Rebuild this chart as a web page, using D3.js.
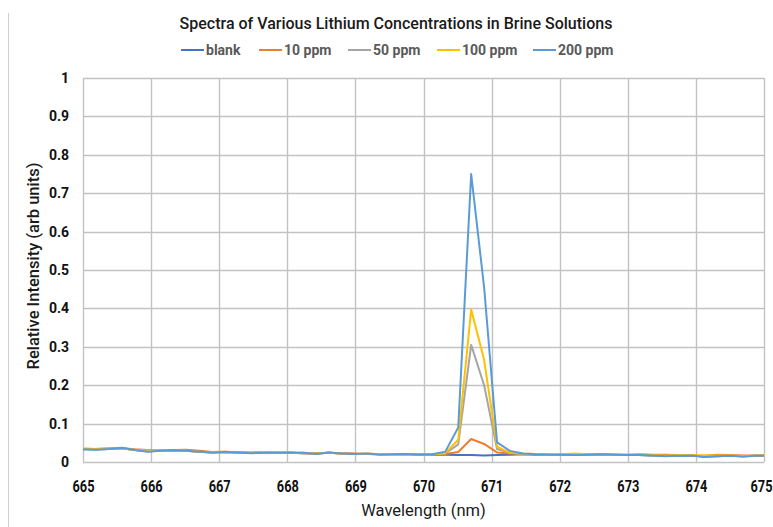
<!DOCTYPE html>
<html>
<head>
<meta charset="utf-8">
<script src="https://cdn.jsdelivr.net/npm/d3@7"></script>
<style>
  body { margin: 0; background: #fff; }
  svg { font-family: Roboto, "Noto Sans", sans-serif; }
</style>
</head>
<body>
<div id="chart"></div>
<script>
// wavelength of each spectrometer pixel (nm)
const wavelengths = [665.00, 665.19, 665.38, 665.57, 665.76, 665.95, 666.14, 666.33, 666.52, 666.71,
  666.90, 667.09, 667.28, 667.47, 667.66, 667.85, 668.04, 668.23, 668.42, 668.61,
  668.80, 668.99, 669.18, 669.37, 669.56, 669.75, 669.94, 670.13, 670.32, 670.51,
  670.70, 670.89, 671.08, 671.27, 671.46, 671.65, 671.84, 672.03, 672.22, 672.41,
  672.60, 672.79, 672.98, 673.17, 673.36, 673.55, 673.74, 673.93, 674.12, 674.31,
  674.50, 674.69, 674.88, 675.07];

const seriesNames = ["blank", "10 ppm", "50 ppm", "100 ppm", "200 ppm"];
const seriesColors = ["#4472C4", "#ED7D31", "#A5A5A5", "#FFC000", "#5B9BD5"];

const blank = [0.033, 0.033, 0.034, 0.036, 0.031, 0.028, 0.029, 0.030, 0.029, 0.027,
  0.025, 0.026, 0.025, 0.024, 0.024, 0.024, 0.024, 0.023, 0.022, 0.024,
  0.022, 0.021, 0.021, 0.020, 0.020, 0.021, 0.019, 0.019, 0.019, 0.018,
  0.018, 0.017, 0.018, 0.019, 0.020, 0.019, 0.019, 0.019, 0.019, 0.019,
  0.020, 0.019, 0.018, 0.018, 0.017, 0.016, 0.016, 0.017, 0.014, 0.015,
  0.016, 0.015, 0.016, 0.016];
const ppm10 = [0.034, 0.034, 0.036, 0.036, 0.033, 0.031, 0.030, 0.031, 0.032, 0.029,
  0.026, 0.027, 0.025, 0.026, 0.025, 0.024, 0.025, 0.023, 0.023, 0.024,
  0.023, 0.022, 0.021, 0.021, 0.020, 0.021, 0.020, 0.020, 0.021, 0.026,
  0.060, 0.047, 0.025, 0.022, 0.021, 0.020, 0.019, 0.019, 0.020, 0.020,
  0.020, 0.019, 0.019, 0.020, 0.019, 0.019, 0.018, 0.017, 0.016, 0.019,
  0.018, 0.017, 0.017, 0.017];
const ppm50 = [0.034, 0.033, 0.034, 0.036, 0.031, 0.029, 0.029, 0.030, 0.029, 0.027,
  0.025, 0.026, 0.025, 0.024, 0.024, 0.024, 0.024, 0.024, 0.022, 0.024,
  0.022, 0.021, 0.021, 0.020, 0.020, 0.021, 0.019, 0.020, 0.022, 0.046,
  0.305, 0.200, 0.034, 0.024, 0.021, 0.020, 0.019, 0.019, 0.019, 0.019,
  0.020, 0.019, 0.018, 0.018, 0.017, 0.016, 0.017, 0.017, 0.015, 0.016,
  0.016, 0.015, 0.016, 0.016];
const ppm100 = [0.036, 0.034, 0.035, 0.035, 0.032, 0.030, 0.029, 0.031, 0.029, 0.027,
  0.026, 0.027, 0.025, 0.026, 0.025, 0.024, 0.024, 0.023, 0.022, 0.024,
  0.022, 0.021, 0.022, 0.020, 0.021, 0.021, 0.019, 0.020, 0.023, 0.058,
  0.397, 0.266, 0.040, 0.024, 0.022, 0.021, 0.019, 0.020, 0.022, 0.020,
  0.020, 0.019, 0.019, 0.019, 0.018, 0.016, 0.018, 0.018, 0.017, 0.017,
  0.017, 0.015, 0.016, 0.017];
const ppm200 = [0.033, 0.032, 0.034, 0.037, 0.031, 0.027, 0.029, 0.031, 0.029, 0.027,
  0.025, 0.026, 0.025, 0.023, 0.024, 0.024, 0.024, 0.024, 0.021, 0.025,
  0.022, 0.021, 0.022, 0.019, 0.020, 0.021, 0.019, 0.020, 0.027, 0.090,
  0.750, 0.455, 0.051, 0.029, 0.022, 0.020, 0.019, 0.019, 0.018, 0.019,
  0.020, 0.019, 0.018, 0.018, 0.017, 0.015, 0.016, 0.017, 0.013, 0.015,
  0.016, 0.014, 0.016, 0.016];

const yTicks = [0, 0.1, 0.2, 0.3, 0.4, 0.5, 0.6, 0.7, 0.8, 0.9, 1];
const xTicks = [665, 666, 667, 668, 669, 670, 671, 672, 673, 674, 675];

const allSeries = [blank, ppm10, ppm50, ppm100, ppm200];

const width = 773, height = 527;
const margin = { top: 78, right: 9, bottom: 65, left: 83 };

const svg = d3.select("#chart").append("svg")
  .attr("width", width)
  .attr("height", height);

// thin frame line on the left
svg.append("line")
  .attr("x1", 8.5).attr("x2", 8.5)
  .attr("y1", 13).attr("y2", height)
  .attr("stroke", "#cfcfcf").attr("stroke-width", 1);

const x = d3.scaleLinear().domain([665, 675]).range([margin.left, width - margin.right]);
const y = d3.scaleLinear().domain([0, 1]).range([height - margin.bottom, margin.top]);

// gridlines
svg.append("g").selectAll("line")
  .data(yTicks).enter().append("line")
  .attr("x1", margin.left).attr("x2", width - margin.right)
  .attr("y1", d => Math.round(y(d)) + 0.5).attr("y2", d => Math.round(y(d)) + 0.5)
  .attr("stroke", "#c2c2c2").attr("stroke-width", 1.4);

svg.append("g").selectAll("line")
  .data(xTicks).enter().append("line")
  .attr("x1", d => Math.round(x(d)) + 0.5).attr("x2", d => Math.round(x(d)) + 0.5)
  .attr("y1", margin.top).attr("y2", height - margin.bottom)
  .attr("stroke", "#c2c2c2").attr("stroke-width", 1.4);

// tick labels via axes, domain and tick marks hidden
const yAxis = svg.append("g")
  .attr("transform", `translate(${margin.left},0)`)
  .call(d3.axisLeft(y).tickValues(yTicks).tickSize(0).tickPadding(14).tickFormat(d => d3.format("~g")(d)));
yAxis.select(".domain").remove();
yAxis.selectAll("text").attr("font-size", 14).attr("font-weight", "bold").attr("fill", "#111")
  .attr("font-family", "Roboto, sans-serif");

const xAxis = svg.append("g")
  .attr("transform", `translate(0,${height - margin.bottom})`)
  .call(d3.axisBottom(x).tickValues(xTicks).tickSize(0).tickPadding(19).tickFormat(d3.format("d")));
xAxis.select(".domain").remove();
xAxis.selectAll("text").attr("font-size", 16).attr("font-weight", "bold").attr("fill", "#111")
  .attr("font-family", "Roboto, sans-serif")
  .attr("transform", "scale(0.8,1)");
// keep the last label inside the window
xAxis.selectAll(".tick").filter(d => d === 675).select("text")
  .attr("text-anchor", "end").attr("x", 10);

// lines
svg.append("clipPath").attr("id", "plotclip").append("rect")
  .attr("x", margin.left).attr("y", margin.top - 2)
  .attr("width", width - margin.left - margin.right)
  .attr("height", height - margin.top - margin.bottom + 4);

const line = d3.line()
  .x((d, i) => x(wavelengths[i]))
  .y(d => y(d));

svg.append("g").attr("clip-path", "url(#plotclip)")
  .selectAll("path")
  .data(allSeries).enter().append("path")
  .attr("d", line)
  .attr("fill", "none")
  .attr("stroke", (d, i) => seriesColors[i])
  .attr("stroke-width", 2)
  .attr("stroke-linejoin", "round");

// title
svg.append("text")
  .attr("x", 396).attr("y", 29)
  .attr("text-anchor", "middle")
  .attr("font-size", 16).attr("font-weight", 500).attr("fill", "#1a1a1a")
  .text("Spectra of Various Lithium Concentrations in Brine Solutions");

// legend
const legendX = [181, 259, 348, 437, 533];
const legend = svg.append("g").selectAll("g")
  .data(seriesNames).enter().append("g")
  .attr("transform", (d, i) => `translate(${legendX[i]},55)`);
legend.append("line")
  .attr("x1", 0).attr("x2", 23).attr("y1", -5).attr("y2", -5)
  .attr("stroke", (d, i) => seriesColors[i]).attr("stroke-width", 2);
legend.append("text")
  .attr("x", 25).attr("y", 0)
  .attr("font-size", 14).attr("font-weight", "bold").attr("fill", "#595959")
  .text(d => d);

// axis titles
svg.append("text")
  .attr("transform", `translate(39,${(margin.top + height - margin.bottom) / 2 - 4}) rotate(-90)`)
  .attr("text-anchor", "middle")
  .attr("font-size", 16.5).attr("font-weight", 500).attr("fill", "#1a1a1a")
  .text("Relative Intensity (arb units)");

svg.append("text")
  .attr("x", (margin.left + width - margin.right) / 2).attr("y", 516)
  .attr("text-anchor", "middle")
  .attr("font-size", 16.5).attr("font-weight", 400).attr("fill", "#1a1a1a")
  .text("Wavelength (nm)");
</script>
</body>
</html>
